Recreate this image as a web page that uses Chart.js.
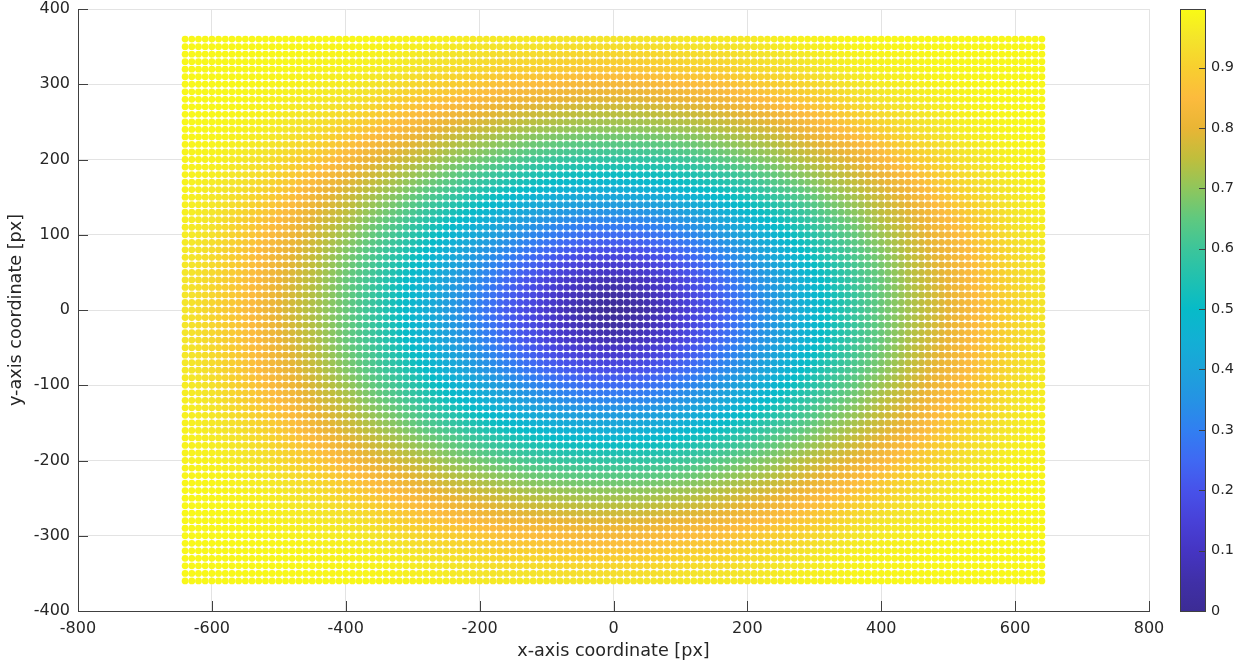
<!DOCTYPE html>
<html>
<head>
<meta charset="utf-8">
<script src="https://cdn.jsdelivr.net/npm/chart.js@4.4.1/dist/chart.umd.min.js"></script>
<style>
  html, body { margin: 0; padding: 0; background: #fff; }
</style>
</head>
<body>
<canvas id="gridChart" width="1256" height="668"></canvas>
<script>
// dot grid, every 10 px of the frame
const xCoords = [
  -640, -630, -620, -610, -600, -590, -580, -570, -560, -550, -540, -530, -520, -510, -500, -490,
  -480, -470, -460, -450, -440, -430, -420, -410, -400, -390, -380, -370, -360, -350, -340, -330,
  -320, -310, -300, -290, -280, -270, -260, -250, -240, -230, -220, -210, -200, -190, -180, -170,
  -160, -150, -140, -130, -120, -110, -100, -90, -80, -70, -60, -50, -40, -30, -20, -10,
  0, 10, 20, 30, 40, 50, 60, 70, 80, 90, 100, 110, 120, 130, 140, 150,
  160, 170, 180, 190, 200, 210, 220, 230, 240, 250, 260, 270, 280, 290, 300, 310,
  320, 330, 340, 350, 360, 370, 380, 390, 400, 410, 420, 430, 440, 450, 460, 470,
  480, 490, 500, 510, 520, 530, 540, 550, 560, 570, 580, 590, 600, 610, 620, 630, 640
];
const yCoords = [
  360, 350, 340, 330, 320, 310, 300, 290, 280, 270, 260, 250, 240, 230, 220, 210, 200, 190,
  180, 170, 160, 150, 140, 130, 120, 110, 100, 90, 80, 70, 60, 50, 40, 30, 20, 10,
  0, -10, -20, -30, -40, -50, -60, -70, -80, -90, -100, -110, -120, -130, -140, -150, -160, -170,
  -180, -190, -200, -210, -220, -230, -240, -250, -260, -270, -280, -290, -300, -310, -320, -330,
  -340, -350, -360
];

// colour values every 40 px
const sampleX = [-640, -600, -560, -520, -480, -440, -400, -360, -320, -280, -240, -200, -160, -120, -80, -40,
  0, 40, 80, 120, 160, 200, 240, 280, 320, 360, 400, 440, 480, 520, 560, 600, 640];
const sampleY = [360, 320, 280, 240, 200, 160, 120, 80, 40, 0, -40, -80, -120, -160, -200, -240, -280, -320, -360];
const sampleValues = [
  [.99,.99,.99,.99,.99,.99,.99,.99,.98,.98,.97,.96,.96,.96,.95,.95,.95,.95,.95,.96,.96,.96,.97,.98,.98,.99,.99,.99,.99,.99,.99,.99,.99],
  [.99,.99,.99,.99,.99,.98,.98,.97,.96,.94,.93,.92,.90,.90,.89,.88,.88,.88,.89,.90,.90,.92,.93,.94,.96,.97,.98,.98,.99,.99,.99,.99,.99],
  [.99,.99,.99,.98,.97,.96,.95,.93,.90,.88,.86,.84,.82,.81,.80,.79,.79,.79,.80,.81,.82,.84,.86,.88,.90,.93,.95,.96,.97,.98,.99,.99,.99],
  [.99,.99,.98,.97,.95,.93,.90,.87,.84,.81,.78,.76,.74,.72,.71,.70,.70,.70,.71,.72,.74,.76,.78,.81,.84,.87,.90,.93,.95,.97,.98,.99,.99],
  [.98,.98,.96,.94,.91,.88,.84,.80,.77,.74,.70,.67,.64,.61,.59,.58,.58,.58,.59,.61,.64,.67,.70,.74,.77,.80,.84,.88,.91,.94,.96,.98,.98],
  [.98,.96,.94,.91,.87,.82,.78,.74,.70,.65,.61,.56,.52,.49,.46,.45,.44,.45,.46,.49,.52,.56,.61,.65,.70,.74,.78,.82,.87,.91,.94,.96,.98],
  [.97,.95,.91,.87,.83,.78,.74,.68,.63,.57,.51,.46,.41,.37,.34,.32,.32,.32,.34,.37,.41,.46,.51,.57,.63,.68,.74,.78,.83,.87,.91,.95,.97],
  [.96,.93,.89,.84,.80,.75,.69,.63,.57,.50,.43,.37,.32,.27,.23,.20,.19,.20,.23,.27,.32,.37,.43,.50,.57,.63,.69,.75,.80,.84,.89,.93,.96],
  [.95,.92,.88,.83,.78,.73,.66,.60,.52,.45,.38,.32,.25,.19,.13,.09,.07,.09,.13,.19,.25,.32,.38,.45,.52,.60,.66,.73,.78,.83,.88,.92,.95],
  [.95,.91,.87,.82,.77,.72,.66,.59,.51,.44,.36,.29,.22,.16,.09,.04,.00,.04,.09,.16,.22,.29,.36,.44,.51,.59,.66,.72,.77,.82,.87,.91,.95],
  [.95,.92,.88,.83,.78,.73,.66,.60,.52,.45,.38,.32,.25,.19,.13,.09,.07,.09,.13,.19,.25,.32,.38,.45,.52,.60,.66,.73,.78,.83,.88,.92,.95],
  [.96,.93,.89,.84,.80,.75,.69,.63,.57,.50,.43,.37,.32,.27,.23,.20,.19,.20,.23,.27,.32,.37,.43,.50,.57,.63,.69,.75,.80,.84,.89,.93,.96],
  [.97,.95,.91,.87,.83,.78,.74,.68,.63,.57,.51,.46,.41,.37,.34,.32,.32,.32,.34,.37,.41,.46,.51,.57,.63,.68,.74,.78,.83,.87,.91,.95,.97],
  [.98,.96,.94,.91,.87,.82,.78,.74,.70,.65,.61,.56,.52,.49,.46,.45,.44,.45,.46,.49,.52,.56,.61,.65,.70,.74,.78,.82,.87,.91,.94,.96,.98],
  [.98,.98,.96,.94,.91,.88,.84,.80,.77,.74,.70,.67,.64,.61,.59,.58,.58,.58,.59,.61,.64,.67,.70,.74,.77,.80,.84,.88,.91,.94,.96,.98,.98],
  [.99,.99,.98,.97,.95,.93,.90,.87,.84,.81,.78,.76,.74,.72,.71,.70,.70,.70,.71,.72,.74,.76,.78,.81,.84,.87,.90,.93,.95,.97,.98,.99,.99],
  [.99,.99,.99,.98,.97,.96,.95,.93,.90,.88,.86,.84,.82,.81,.80,.79,.79,.79,.80,.81,.82,.84,.86,.88,.90,.93,.95,.96,.97,.98,.99,.99,.99],
  [.99,.99,.99,.99,.99,.98,.98,.97,.96,.94,.93,.92,.90,.90,.89,.88,.88,.88,.89,.90,.90,.92,.93,.94,.96,.97,.98,.98,.99,.99,.99,.99,.99],
  [.99,.99,.99,.99,.99,.99,.99,.99,.98,.98,.97,.96,.96,.96,.95,.95,.95,.95,.95,.96,.96,.96,.97,.98,.98,.99,.99,.99,.99,.99,.99,.99,.99]
];

// colorbar
const cbMax = 0.997;
const cbTicks = [0, 0.1, 0.2, 0.3, 0.4, 0.5, 0.6, 0.7, 0.8, 0.9];
const cmapVals = [0, 0.05, 0.1, 0.15, 0.2, 0.25, 0.3, 0.35, 0.4, 0.45, 0.5,
  0.55, 0.6, 0.65, 0.7, 0.75, 0.8, 0.85, 0.9, 0.95, 1];
const cmapColors = ["#3c2c95", "#4030a8", "#4535c3", "#4841d8", "#4752ea", "#3f69f3", "#317ff1",
  "#2593e4", "#1ca3da", "#12b0d4", "#07bbc8", "#20c1b0", "#3cc59a", "#5fc97f", "#8fc65c",
  "#c0be3c", "#e9b535", "#fcbb3d", "#f8cf2f", "#f4e52a", "#f9fb15"];

const textColor = "#262626";
const axisColor = "#404040";
const gridColor = "#e3e3e3";
const fontFamily = "'DejaVu Sans', sans-serif";

function hexRgb(h) {
  return [parseInt(h.slice(1, 3), 16), parseInt(h.slice(3, 5), 16), parseInt(h.slice(5, 7), 16)];
}
const cmapRgb = cmapColors.map(hexRgb);

function colorFor(v) {
  v = Math.max(0, Math.min(1, v));
  let i = 0;
  while (i < cmapVals.length - 2 && v > cmapVals[i + 1]) i++;
  const t = (v - cmapVals[i]) / (cmapVals[i + 1] - cmapVals[i]);
  const a = cmapRgb[i], b = cmapRgb[i + 1];
  const c = a.map((ch, k) => Math.round(ch + (b[k] - ch) * t));
  return `rgb(${c[0]},${c[1]},${c[2]})`;
}

// position between two neighbouring samples
function locate(arr, v) {
  let i = 0;
  const asc = arr[1] > arr[0];
  while (i < arr.length - 2 && (asc ? v > arr[i + 1] : v < arr[i + 1])) i++;
  return [i, (v - arr[i]) / (arr[i + 1] - arr[i])];
}

function valueAt(x, y) {
  const [i, tx] = locate(sampleX, x);
  const [j, ty] = locate(sampleY, y);
  const top = sampleValues[j][i] * (1 - tx) + sampleValues[j][i + 1] * tx;
  const bot = sampleValues[j + 1][i] * (1 - tx) + sampleValues[j + 1][i + 1] * tx;
  return top * (1 - ty) + bot * ty;
}

const points = [];
const pointColors = [];
yCoords.forEach(y => {
  xCoords.forEach(x => {
    points.push({ x: x, y: y });
    pointColors.push(colorFor(valueAt(x, y)));
  });
});

// matlab style ticks pointing into the axes
const innerTicks = {
  id: "innerTicks",
  afterDraw(chart) {
    const { ctx, chartArea, scales } = chart;
    ctx.save();
    ctx.strokeStyle = axisColor;
    ctx.lineWidth = 1;
    ctx.beginPath();
    scales.x.ticks.forEach(t => {
      const px = Math.round(scales.x.getPixelForValue(t.value)) + 0.5;
      ctx.moveTo(px, chartArea.bottom);
      ctx.lineTo(px, chartArea.bottom - 10);
    });
    scales.y.ticks.forEach(t => {
      const py = Math.round(scales.y.getPixelForValue(t.value)) + 0.5;
      ctx.moveTo(chartArea.left, py);
      ctx.lineTo(chartArea.left + 10, py);
    });
    ctx.stroke();
    ctx.restore();
  }
};

const colorbar = {
  id: "colorbar",
  afterDraw(chart) {
    const { ctx } = chart;
    const cb = chart.scales.cb;
    const left = cb.left + 31;
    const w = 25;
    const top = cb.getPixelForValue(cbMax);
    const bottom = cb.getPixelForValue(0);
    const grad = ctx.createLinearGradient(0, bottom, 0, top);
    cmapVals.forEach((v, i) => grad.addColorStop(Math.min(1, v / cbMax), cmapColors[i]));
    ctx.save();
    ctx.fillStyle = grad;
    ctx.fillRect(left, top, w, bottom - top);
    ctx.strokeStyle = axisColor;
    ctx.lineWidth = 1;
    ctx.strokeRect(left + 0.5, Math.round(top) + 0.5, w, Math.round(bottom - top));
    ctx.beginPath();
    cbTicks.forEach(v => {
      const py = Math.round(cb.getPixelForValue(v)) + 0.5;
      ctx.moveTo(left + w, py);
      ctx.lineTo(left + w - 6, py);
    });
    ctx.stroke();
    ctx.restore();
  }
};

// keep label overhang from shrinking the plot box
function noOverhang(s) {
  s.paddingTop = 0;
  s.paddingBottom = 0;
  s.paddingLeft = 0;
  s.paddingRight = 0;
}

const ctx = document.getElementById("gridChart").getContext("2d");
new Chart(ctx, {
  type: "scatter",
  data: {
    datasets: [{
      data: points,
      backgroundColor: pointColors,
      pointRadius: 3.4,
      pointHoverRadius: 3.4,
      borderWidth: 0,
    }],
  },
  options: {
    responsive: false,
    animation: false,
    events: [],
    layout: { padding: { top: 9, left: 0, right: 0, bottom: 0 } },
    plugins: { legend: { display: false }, tooltip: { enabled: false } },
    scales: {
      x: {
        type: "linear",
        min: -800,
        max: 800,
        ticks: { stepSize: 200, color: textColor, padding: 8, font: { family: fontFamily, size: 16 } },
        grid: { color: gridColor, drawTicks: false },
        border: { color: axisColor },
        title: {
          display: true, text: "x-axis coordinate [px]", color: textColor,
          font: { family: fontFamily, size: 17.6 }, padding: { top: 0, bottom: 6 },
        },
        afterFit: s => { noOverhang(s); s.height = 57; },
      },
      y: {
        type: "linear",
        min: -400,
        max: 400,
        ticks: { stepSize: 100, color: textColor, padding: 8, font: { family: fontFamily, size: 16 } },
        grid: { color: gridColor, drawTicks: false },
        border: { color: axisColor },
        title: {
          display: true, text: "y-axis coordinate [px]", color: textColor,
          font: { family: fontFamily, size: 17.6 }, padding: { top: 6, bottom: 0 },
        },
        afterFit: s => { noOverhang(s); s.width = 78; },
      },
      cb: {
        type: "linear",
        position: "right",
        min: 0,
        max: cbMax,
        afterBuildTicks: s => { s.ticks = cbTicks.map(v => ({ value: v })); },
        ticks: {
          autoSkip: false, padding: 62, color: textColor,
          font: { family: fontFamily, size: 14.4 },
          callback: v => String(+v.toFixed(1)),
        },
        grid: { display: false, drawTicks: false },
        border: { display: false },
        afterFit: s => { noOverhang(s); s.width = 107; },
      },
    },
  },
  plugins: [innerTicks, colorbar],
});
</script>
</body>
</html>
